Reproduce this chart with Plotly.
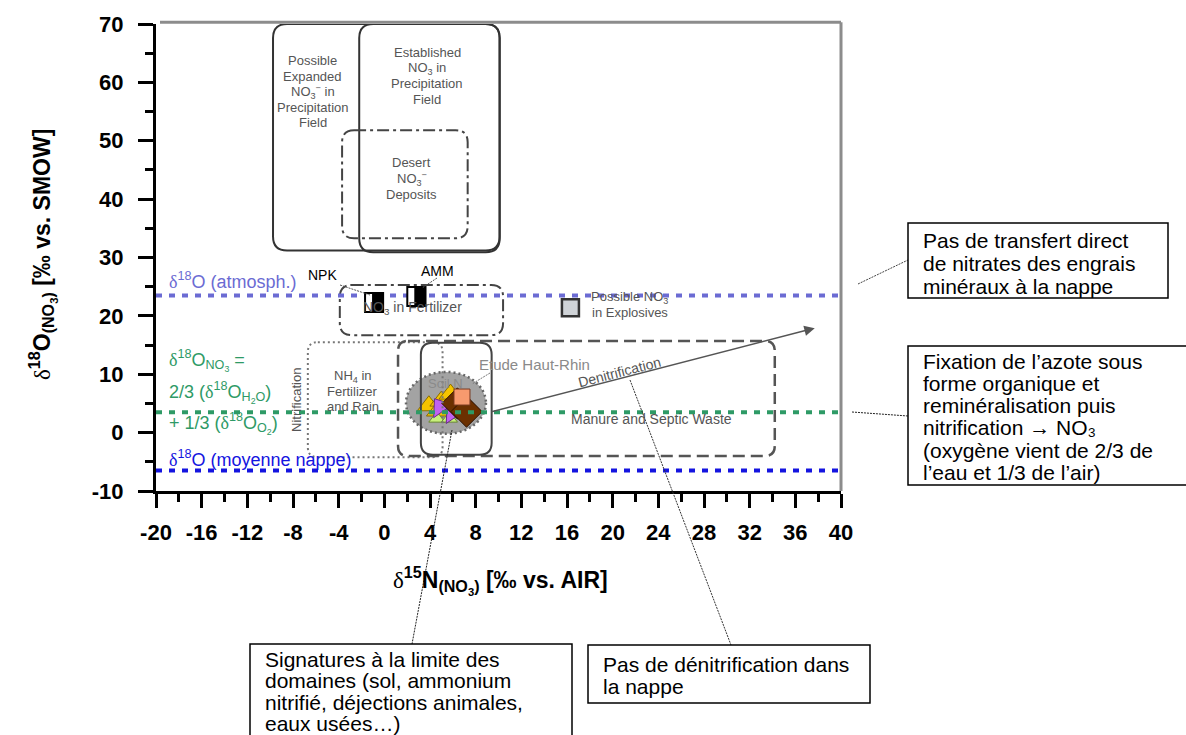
import plotly.graph_objects as go

# ---------------------------------------------------------------- data
X_RANGE = [-20, 40]
Y_RANGE = [-10, 70]
x_tickvals = list(range(-20, 41, 4))
x_ticktext = [str(v) for v in x_tickvals]          # plain hyphen for negatives
y_tickvals = list(range(-10, 71, 10))
y_ticktext = [str(v) for v in y_tickvals]

# Source fields: delta15N extent (x0, x1) and delta18O extent (y0, y1)
field_names = ["precip_expanded", "precip_established", "desert", "no3_fert",
               "nh4_fert", "manure", "soil_n"]
field_x0 = [-9.75, -2.2, -3.7, -3.9, -6.7, 1.2, 3.2]
field_x1 = [10.1, 10.1, 7.3, 10.4, 5.1, 34.2, 9.4]
field_y0 = [31.2, 30.9, 33.3, 16.7, -4.2, -4.0, -3.8]
field_y1 = [70.0, 70.0, 51.8, 25.3, 15.5, 15.7, 15.4]

# Reference delta18O levels
ref_names = ["atmosph", "nitrification", "nappe"]
ref_y = [23.5, 3.5, -6.5]

# Groundwater samples (Etude Haut-Rhin)
yellow_x = [3.9, 4.7, 5.0, 5.8]
yellow_y = [4.6, 3.7, 5.4, 6.6]
green_x = [4.6, 5.7]
green_y = [2.4, 2.4]
purple_x = [4.9, 6.0]
purple_y = [4.4, 3.4]
orange_x = [6.8]
orange_y = [6.1]
brown_x = [6.4, 7.2]
brown_y = [5.0, 3.6]

# Commercial fertilizers
fert_names = ["NPK", "AMM"]
fert_x = [-0.9, 2.8]
fert_y = [22.3, 23.3]

# Explosive nitrate symbol
explo_x = [16.3]
explo_y = [21.4]

# Soil N cloud (centre and half-widths)
soil_cx, soil_cy, soil_rx, soil_ry = 5.4, 5.1, 3.5, 5.3

# Denitrification trend (start, end)
denit_x = [9.25, 37.7]
denit_y = [3.5, 17.9]

# ---------------------------------------------------------------- layout helpers
W, H = 1186, 735
L, R, T, B = 156, 841, 24, 491          # plot area in pixels
PX_X = (R - L) / (X_RANGE[1] - X_RANGE[0])
PX_Y = (B - T) / (Y_RANGE[1] - Y_RANGE[0])
SANS = "Liberation Sans, Arial, sans-serif"
D = "<span style='font-family:Liberation Serif'>δ</span>"


def px(xp):
    return (xp - L) / (R - L)


def py(yp):
    return (B - yp) / (B - T)


def rounded(x0, x1, y0, y1, r):
    rx, ry = r / PX_X, r / PX_Y
    return (f"M{x0+rx},{y1} L{x1-rx},{y1} Q{x1},{y1} {x1},{y1-ry} "
            f"L{x1},{y0+ry} Q{x1},{y0} {x1-rx},{y0} L{x0+rx},{y0} "
            f"Q{x0},{y0} {x0},{y0+ry} L{x0},{y1-ry} Q{x0},{y1} {x0+rx},{y1} Z")


fig = go.Figure()

# ---------------------------------------------------------------- source fields
field_style = {
    "precip_expanded": dict(color="#333", width=2, dash="solid", r=14),
    "precip_established": dict(color="#333", width=2, dash="solid", r=14),
    "desert": dict(color="#444", width=2, dash="12px,4px,3px,4px", r=12),
    "no3_fert": dict(color="#444", width=2, dash="12px,4px,3px,4px", r=12),
    "nh4_fert": dict(color="#777", width=2, dash="2px,3px", r=10),
    "manure": dict(color="#555", width=2.5, dash="12px,6px", r=10),
    "soil_n": dict(color="#444", width=2, dash="solid", r=12),
}
for n, x0, x1, y0, y1 in zip(field_names, field_x0, field_x1, field_y0, field_y1):
    s = field_style[n]
    fig.add_shape(type="path", xref="x", yref="y",
                  path=rounded(x0, x1, y0, y1, s["r"]),
                  line=dict(color=s["color"], width=s["width"], dash=s["dash"]),
                  layer="above")

# Soil N cloud
fig.add_shape(type="circle", xref="x", yref="y",
              x0=soil_cx - soil_rx, x1=soil_cx + soil_rx,
              y0=soil_cy - soil_ry, y1=soil_cy + soil_ry,
              fillcolor="#a3a3a3", line=dict(color="#666", width=2.5, dash="2px,3px"),
              layer="below")

# Reference delta18O lines
ref_colors = ["#6b6bd3", "#2e9a66", "#1414e0"]
for yv, c in zip(ref_y, ref_colors):
    fig.add_shape(type="line", xref="x", yref="y", x0=X_RANGE[0], x1=X_RANGE[1],
                  y0=yv, y1=yv, line=dict(color=c, width=4, dash="6px,7px"),
                  layer="above")

# ---------------------------------------------------------------- field labels
GRAY = "#555"


def lines_at(lines, x, y, size, color=GRAY, spacing=None, xref="x", yref="y",
             xanchor="center", family=SANS):
    spacing = spacing or size * 1.1
    n = len(lines)
    for i, t in enumerate(lines):
        fig.add_annotation(x=x, y=y, xref=xref, yref=yref, text=t, showarrow=False,
                           xanchor=xanchor, yanchor="middle",
                           yshift=((n - 1) / 2 - i) * spacing,
                           font=dict(size=size, color=color, family=family))


lines_at(["Possible", "Expanded", "NO<sub>3</sub><sup>−</sup> in", "Precipitation", "Field"],
         -6.25, 58.4, 13, spacing=15.5)
lines_at(["Established", "NO<sub>3</sub> in", "Precipitation", "Field"], 3.75, 61.1, 13,
         spacing=15.5)
lines_at(["Desert", "NO<sub>3</sub><sup>−</sup>", "Deposits"], 2.4, 43.5, 13, spacing=16)
lines_at(["NO<sub>3</sub> in Fertilizer"], 2.5, 21.35, 14)
lines_at(["NH<sub>4</sub> in", "Fertilizer", "and Rain"], -2.75, 7.1, 13, spacing=15)
fig.add_annotation(x=-7.65, y=5.6, text="Nitrification", showarrow=False, textangle=-90,
                   font=dict(size=13, color=GRAY, family=SANS))
lines_at(["Manure and Septic Waste"], 23.4, 2.3, 14)
lines_at(["Possible NO<sub>3</sub>", "in Explosives"], 21.5, 21.9, 13, spacing=15)
lines_at(["Soil N"], 5.4, 8.5, 13, color="#8a8a8a")
fig.add_annotation(x=20.6, y=10.4, text="Denitrification", showarrow=False,
                   textangle=-14.5, font=dict(size=14, color=GRAY, family=SANS))
fig.add_annotation(x=8.1, y=11.6, text="Etude Haut-Rhin", showarrow=False, xanchor="left",
                   font=dict(size=15, color="#8a8a8a", family=SANS))

# Denitrification arrow
fig.add_annotation(x=denit_x[1], y=denit_y[1], ax=denit_x[0], ay=denit_y[0],
                   xref="x", yref="y", axref="x", ayref="y", text="", showarrow=True,
                   arrowhead=2, arrowsize=1.3, arrowwidth=1.6, arrowcolor="#555")

# Reference line labels
lines_at([f"{D}<sup>18</sup>O (atmosph.)"], -19.0, 26.1, 18, color=ref_colors[0],
         xanchor="left")
lines_at([f"{D}<sup>18</sup>O<sub>NO<sub>3</sub></sub> ="], -19.0, 12.4, 18,
         color=ref_colors[1], xanchor="left")
lines_at([f"2/3 ({D}<sup>18</sup>O<sub>H<sub>2</sub>O</sub>)"], -19.0, 6.8, 18,
         color=ref_colors[1], xanchor="left")
lines_at([f"+ 1/3 ({D}<sup>18</sup>O<sub>O<sub>2</sub></sub>)"], -19.0, 1.5, 18,
         color=ref_colors[1], xanchor="left")
lines_at([f"{D}<sup>18</sup>O (moyenne nappe)"], -19.0, -4.35, 18, color=ref_colors[2],
         xanchor="left")

# ---------------------------------------------------------------- markers
fig.add_trace(go.Scatter(x=yellow_x, y=yellow_y, mode="markers",
                         marker=dict(symbol="triangle-up", size=20, color="#f5c400",
                                     line=dict(color="#8a6d00", width=1))))
fig.add_trace(go.Scatter(x=green_x, y=green_y, mode="markers",
                         marker=dict(symbol="triangle-up", size=14, color="#c8f07c",
                                     line=dict(color="#6a8a30", width=1))))
fig.add_trace(go.Scatter(x=purple_x, y=purple_y, mode="markers",
                         marker=dict(symbol="triangle-up", size=20, color="#c062f0",
                                     angle=-35, line=dict(color="#6a2a8a", width=1))))
fig.add_trace(go.Scatter(x=brown_x, y=brown_y, mode="markers",
                         marker=dict(symbol="diamond", size=24, color="#6b3000",
                                     line=dict(color="#2a1000", width=1))))
fig.add_trace(go.Scatter(x=orange_x, y=orange_y, mode="markers",
                         marker=dict(symbol="square", size=16, color="#f79a6e",
                                     line=dict(color="#7a3a20", width=1))))
fig.add_trace(go.Scatter(x=explo_x, y=explo_y, mode="markers",
                         marker=dict(symbol="square", size=17, color="#cfd3d7",
                                     line=dict(color="#333", width=2.5))))

# Fertilizer symbols: square, left half white, right half black
for fx_, fy_ in zip(fert_x, fert_y):
    fig.add_shape(type="rect", xref="x", yref="y", xsizemode="pixel", ysizemode="pixel",
                  xanchor=fx_, yanchor=fy_, x0=-9, x1=9, y0=-9.5, y1=9.5,
                  fillcolor="white", line=dict(color="black", width=2), layer="above")
    fig.add_shape(type="rect", xref="x", yref="y", xsizemode="pixel", ysizemode="pixel",
                  xanchor=fx_, yanchor=fy_, x0=-1, x1=9, y0=-9.5, y1=9.5,
                  fillcolor="black", line=dict(color="black", width=2), layer="above")
fig.add_annotation(x=-5.4, y=27.0, text=fert_names[0], showarrow=False,
                   font=dict(size=14, color="black", family=SANS))
fig.add_annotation(x=4.7, y=27.7, text=fert_names[1], showarrow=False,
                   font=dict(size=14, color="black", family=SANS))

# ---------------------------------------------------------------- thin leader lines (pixels)
leaders = [((340, 285), (370, 295), "#555"), ((437, 278), (422, 288), "#555"),
           ((490, 373), (472, 384), "#777"),
           ((858, 284), (908, 260), "#444"), ((852, 412), (908, 416), "#222"),
           ((452, 430), (412, 644), "#222"), ((630, 380), (731, 645), "#333")]
for p0, p1, col in leaders:
    fig.add_shape(type="line", xref="paper", yref="paper",
                  x0=px(p0[0]), y0=py(p0[1]), x1=px(p1[0]), y1=py(p1[1]),
                  line=dict(color=col, width=1, dash="2px,1px"), layer="above")

# ---------------------------------------------------------------- comment boxes
boxes = [
    ((908, 223, 1168, 298), 921, 241, 22.8,
     ["Pas de transfert direct", "de nitrates des engrais", "minéraux à la nappe"]),
    ((908, 346, 1192, 485), 921, 361, 22.3,
     ["Fixation de l’azote sous", "forme organique et", "reminéralisation puis",
      "nitrification → NO₃", "(oxygène vient de 2/3 de",
      "l’eau et 1/3 de l’air)"]),
    ((250, 644, 572, 740), 263, 659, 21.5,
     ["Signatures à la limite des", "domaines (sol, ammonium",
      "nitrifié, déjections animales,", "eaux usées…)"]),
    ((588, 645, 870, 703), 601, 664, 22,
     ["Pas de dénitrification dans", "la nappe"]),
]
for (bx0, by0, bx1, by1), tx, ty, sp, txt in boxes:
    fig.add_shape(type="rect", xref="paper", yref="paper",
                  x0=px(bx0), x1=px(bx1), y0=py(by0), y1=py(by1),
                  line=dict(color="black", width=1.5), fillcolor="white", layer="above")
    for i, t in enumerate(txt):
        fig.add_annotation(x=px(tx), y=py(ty + sp * i), xref="paper", yref="paper",
                           text=t, showarrow=False, xanchor="left", yanchor="middle",
                           font=dict(size=21, color="black", family=SANS))

# ---------------------------------------------------------------- frame (top / right)
fig.add_shape(type="line", xref="paper", yref="paper", x0=px(160), x1=1, y0=1.004, y1=1.004,
              line=dict(color="#8c8c8c", width=3), layer="above")
fig.add_shape(type="line", xref="paper", yref="paper", x0=1, x1=1, y0=0, y1=1.004,
              line=dict(color="#8c8c8c", width=3), layer="above")

# ---------------------------------------------------------------- axis titles
fig.add_annotation(x=px(43), y=py(255), xref="paper", yref="paper", textangle=-90,
                   showarrow=False, xanchor="center", yanchor="middle",
                   text=f"{D}<b><sup>18</sup>O<sub>(NO<sub>3</sub>)</sub> [‰ vs. SMOW]</b>",
                   font=dict(size=23, color="black", family=SANS))
fig.add_annotation(x=px(500), y=py(580), xref="paper", yref="paper", showarrow=False,
                   xanchor="center", yanchor="middle",
                   text=f"{D}<b><sup>15</sup>N<sub>(NO<sub>3</sub>)</sub> [‰ vs. AIR]</b>",
                   font=dict(size=23, color="black", family=SANS))

tick_font = dict(size=22, color="black", family=SANS, weight="bold")
fig.update_layout(
    width=W, height=H, paper_bgcolor="white", plot_bgcolor="white", showlegend=False,
    margin=dict(l=L, r=W - R, t=T, b=H - B),
    xaxis=dict(range=X_RANGE, tickmode="array", tickvals=x_tickvals, ticktext=x_ticktext,
               ticks="outside", ticklen=14,
               tickwidth=3, tickcolor="black", showline=True, linewidth=3,
               linecolor="black", showgrid=False, zeroline=False, tickfont=tick_font,
               ticklabelstandoff=6,
               minor=dict(tick0=-20, dtick=2, ticks="outside", ticklen=8, tickwidth=3,
                          tickcolor="black")),
    yaxis=dict(range=Y_RANGE, tickmode="array", tickvals=y_tickvals, ticktext=y_ticktext,
               ticks="outside", ticklen=15,
               tickwidth=3, tickcolor="black", showline=True, linewidth=3,
               linecolor="black", showgrid=False, zeroline=False, tickfont=tick_font,
               ticklabelstandoff=10,
               minor=dict(tick0=-10, dtick=5, ticks="outside", ticklen=8, tickwidth=3,
                          tickcolor="black")),
)

fig.write_html("out.html")
